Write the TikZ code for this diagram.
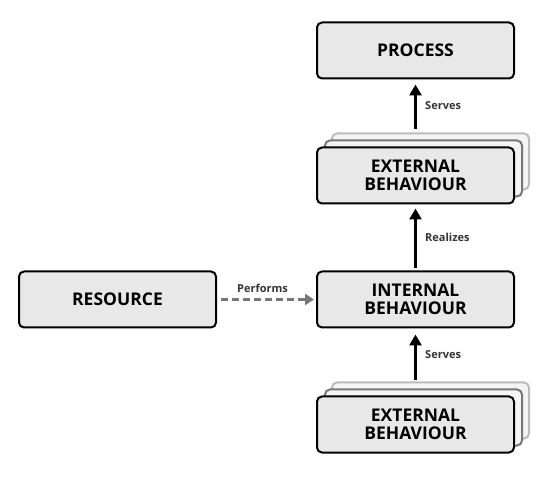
\documentclass[tikz,border=0pt]{standalone}
\usepackage{fontspec}
\setmainfont{Open Sans}
\usepackage{tikz}
\usetikzlibrary{
	arrows.meta,
	positioning,
	shadows
	}
\definecolor{grisfond}{HTML}{E8E8E8}
\definecolor{grisombre}{HTML}{F4F4F4}
\definecolor{grismoyen}{HTML}{777777}
\definecolor{grisclair}{HTML}{BBBBBB}
\definecolor{grisetiq}{HTML}{333333}
\tikzstyle{boite-std}=[draw=black,fill=grisfond,rounded corners=5pt,line width=2pt,minimum width=197pt,minimum height=56pt,inner sep=0pt,align=center,font=\fontsize{17.5}{17.5}\selectfont\bfseries]
\tikzstyle{boite-ext}=[boite-std,
	general shadow={shadow xshift=15pt,shadow yshift=14pt,draw=grisclair,fill=grisombre,line width=2pt},
	general shadow={shadow xshift=8pt,shadow yshift=7pt,draw=grismoyen,fill=grisombre,line width=2pt}]
\tikzstyle{fleche-std}=[line width=2.8pt,-{Triangle[width=12pt,length=11pt]}]
\tikzstyle{fleche-tir}=[line width=2.5pt,draw=grismoyen,dash pattern=on 7pt off 4pt,-{Triangle[width=11pt,length=9pt]}]
\tikzstyle{etiq}=[font=\fontsize{11}{13}\selectfont\bfseries,text=grisetiq]

\begin{document}
\begin{tikzpicture}[node distance=67pt]
\useasboundingbox (0,0) rectangle (550pt,483pt);

\node[boite-std] (noeudProc) at (415.5pt,432.5pt) {PROCESS};
\node[boite-ext,below=of noeudProc] (noeudExtH) {EXTERNAL\\BEHAVIOUR};
\node[boite-std,below=66pt of noeudExtH] (noeudInt) {INTERNAL\\BEHAVIOUR};
\node[boite-ext,below=of noeudInt] (noeudExtB) {EXTERNAL\\BEHAVIOUR};
\node[boite-std,left=99pt of noeudInt] (noeudRes) {RESOURCE};

\draw[fleche-std,shorten <=3pt,shorten >=5pt] ([yshift=14pt]noeudExtH.north) -- (noeudProc.south)
	node[etiq,midway,right=5pt] {Serves};
\draw[fleche-std,shorten <=2pt,shorten >=4pt] (noeudInt.north) -- (noeudExtH.south)
	node[etiq,midway,right=5pt] {Realizes};
\draw[fleche-std,shorten <=1pt,shorten >=6pt] ([yshift=14pt]noeudExtB.north) -- (noeudInt.south)
	node[etiq,midway,right=5pt] {Serves};
\draw[fleche-tir,shorten <=4pt,shorten >=2pt] (noeudRes.east) -- (noeudInt.west)
	node[etiq,midway,above=2pt,xshift=-4pt] {Performs};
\end{tikzpicture}
\end{document}
